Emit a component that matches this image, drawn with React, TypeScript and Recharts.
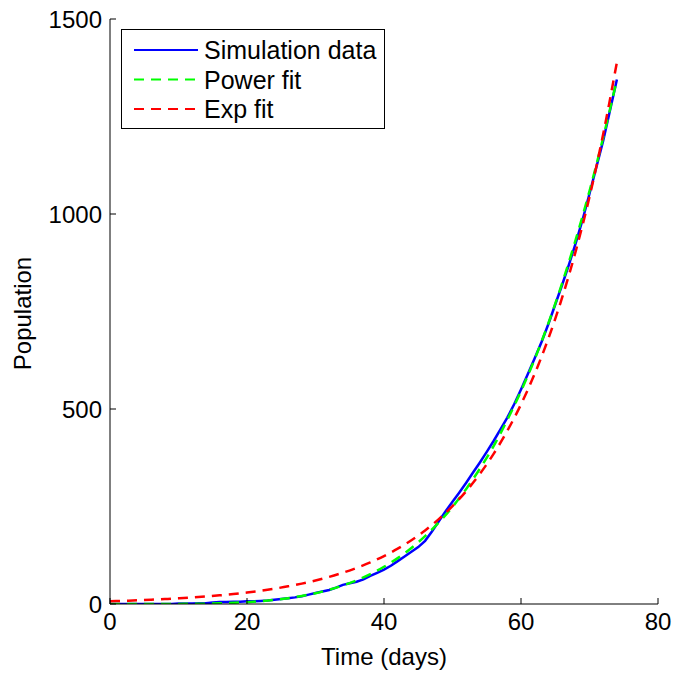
import React from 'react';
import { LineChart, Line, XAxis, YAxis, Legend } from 'recharts';

const simDays = [0,1,2,3,4,5,6,7,8,9,10,11,12,13,14,15,16,17,18,19,20,21,22,23,24,25,26,27,28,29,30,31,32,33,34,35,36,37,38,39,40,41,42,43,44,45,46,47,48,49,50,51,52,53,54,55,56,57,58,59,60,61,62,63,64,65,66,67,68,69,70,71,72,73,74];
const simPopulation = [0,0,0,0,0,0,0,0,0,0,1,1,1,2,2,4,5,5,6,6,7,7,8,9,11,13,15,17,20,24,28,32,36,42,49,53,57,63,72,80,88,98,110,122,134,146,162,186,212,238,262,286,311,337,363,390,418,448,478,512,550,590,630,672,718,768,818,870,926,986,1052,1120,1188,1266,1345];

const fitDays = [0,2,4,6,8,10,12,14,16,18,20,22,24,26,28,30,32,34,36,38,40,42,44,46,48,50,52,54,56,58,60,62,64,66,68,70,72,74];
const powerFit = [0,0,0,0.03,0.09,0.25,0.54,1.0,1.9,3.1,4.8,7.3,10.6,15.0,20.6,27.7,36.6,47.5,60.6,76.6,95.5,117.7,143.8,174,209,249,295,347,405,472,546,628,720,822,935,1059,1196,1345];
const expFit = [7.1,8.2,9.4,10.9,12.6,14.5,16.7,19.3,22.2,25.6,29.5,34.1,39.3,45.3,52.3,60.3,69.5,80.2,92.5,106.6,123,141.8,163.6,188.6,217.6,250.9,289.4,333.7,384.9,443.9,511.9,590.4,680.9,785.3,905.5,1044,1205,1389];

const xTicks = [0, 20, 40, 60, 80];
const yTicks = [0, 500, 1000, 1500];

const seriesNames = ['Simulation data', 'Power fit', 'Exp fit'];
const seriesColors = ['#0000ff', '#00ff00', '#ff0000'];
const seriesDash = [undefined, '10 7', '10 7'];

const simData = simDays.map((t, i) => ({ t, v: simPopulation[i] }));
const powData = fitDays.map((t, i) => ({ t, v: powerFit[i] }));
const expData = fitDays.map((t, i) => ({ t, v: expFit[i] }));

const FONT = '"Liberation Sans", Arial, Helvetica, sans-serif';
const noTick = () => <g />;

const renderLegend = () => (
  <div style={{ width: 262, height: 98, border: '1px solid #000', background: '#fff', fontFamily: FONT }}>
    <svg width={262} height={98} style={{ display: 'block' }}>
      {seriesNames.map((name, i) => {
        const cy = 20 + i * 29.5;
        return (
          <g key={name}>
            <line x1={12} x2={76} y1={cy} y2={cy} stroke={seriesColors[i]} strokeWidth={2} strokeDasharray={seriesDash[i]} />
            <text x={82} y={cy} dominantBaseline="central" fontSize={25} fill="#000" fontFamily={FONT}>{name}</text>
          </g>
        );
      })}
    </svg>
  </div>
);

const XTitle = (props: any) => {
  const vb = props.viewBox || {};
  return (
    <text x={vb.x + vb.width / 2} y={vb.y + 61} textAnchor="middle" fontSize={24} fill="#000" fontFamily={FONT}>
      Time (days)
    </text>
  );
};

const YTitle = (props: any) => {
  const vb = props.viewBox || {};
  const cx = vb.x - 28;
  const cy = vb.y + vb.height / 2 + 2;
  return (
    <text x={cx} y={cy} transform={`rotate(-90, ${cx}, ${cy})`} textAnchor="middle" dominantBaseline="central" fontSize={24} fill="#000" fontFamily={FONT}>
      Population
    </text>
  );
};

export default function App() {
  return (
    <div style={{ position: 'absolute', top: 0, left: 0, width: 676, height: 675, background: '#fff' }}>
      <LineChart width={676} height={675} margin={{ top: 19, right: 18, left: 50, bottom: 21 }} style={{ fontFamily: FONT }}>
        <XAxis
          xAxisId="bottom"
          type="number"
          dataKey="t"
          domain={[0, 80]}
          ticks={xTicks}
          allowDataOverflow
          height={50}
          orientation="bottom"
          stroke="#000"
          tickSize={-6}
          tickMargin={15}
          tick={{ fontSize: 24, fill: '#000' }}
          label={<XTitle />}
        />
        <XAxis
          xAxisId="top"
          type="number"
          dataKey="t"
          domain={[0, 80]}
          ticks={xTicks}
          allowDataOverflow
          height={0}
          orientation="top"
          stroke="#000"
          tickSize={-6}
          tick={noTick}
        />
        <YAxis
          yAxisId="left"
          type="number"
          domain={[0, 1500]}
          ticks={yTicks}
          allowDataOverflow
          width={60}
          orientation="left"
          stroke="#000"
          tickSize={-6}
          tickMargin={14}
          tick={{ fontSize: 24, fill: '#000' }}
          label={<YTitle />}
        />
        <YAxis
          yAxisId="right"
          type="number"
          domain={[0, 1500]}
          ticks={yTicks}
          allowDataOverflow
          width={0}
          orientation="right"
          stroke="#000"
          tickSize={-6}
          tick={noTick}
        />
        <Legend
          layout="horizontal"
          verticalAlign="middle"
          align="center"
          content={renderLegend}
          wrapperStyle={{ position: 'absolute', top: 29, left: 121, width: 264, height: 100 }}
        />
        <Line xAxisId="bottom" yAxisId="left" data={simData} dataKey="v" name={seriesNames[0]} stroke={seriesColors[0]} strokeWidth={2.5} dot={false} isAnimationActive={false} type="linear" />
        <Line xAxisId="bottom" yAxisId="left" data={powData} dataKey="v" name={seriesNames[1]} stroke={seriesColors[1]} strokeWidth={2.5} strokeDasharray="10 7" dot={false} isAnimationActive={false} type="monotone" />
        <Line xAxisId="bottom" yAxisId="left" data={expData} dataKey="v" name={seriesNames[2]} stroke={seriesColors[2]} strokeWidth={2.5} strokeDasharray="10 7" dot={false} isAnimationActive={false} type="monotone" />
      </LineChart>
    </div>
  );
}
